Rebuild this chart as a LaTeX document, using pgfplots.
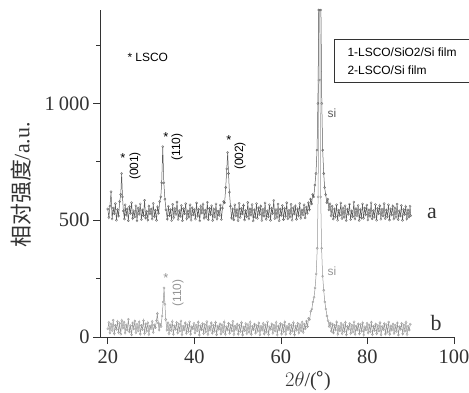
\documentclass[border=0pt]{standalone}
\usepackage{pgfplots}
\pgfplotsset{compat=1.18}
\usepackage{fontspec}
\setmainfont{Liberation Serif}
\newfontfamily\arial{Liberation Sans}
\newfontfamily\cjk{Noto Sans CJK SC}
\definecolor{ta}{HTML}{5A5A5A}
\definecolor{tb}{HTML}{959595}
\definecolor{ax}{HTML}{333333}
\begin{document}
\begin{tikzpicture}[x=1bp,y=1bp]
\begin{axis}[
  at={(0,0)}, anchor=south west,
  scale only axis, width=354bp, height=327bp,
  xmin=18.2, xmax=100, ymin=0, ymax=1400,
  axis x line*=bottom, axis y line*=left,
  axis line style={ax, line width=0.8pt, -},
  xtick={20,40,60,80,100},
  ytick={0,500,1000}, yticklabels={0,500,1\hspace{4bp}000},
  minor ytick={250,750,1250},
  tick align=outside,
  major tick length=7bp, minor tick length=4bp,
  tick style={ax, line width=0.8pt},
  tick label style={font=\fontsize{20.5}{24}\selectfont, text=ax},
  /pgf/number format/assume math mode=true,
  xticklabel style={yshift=-2bp},
  clip=true,
]
\addplot[tb, line width=0.5pt, mark=o, mark size=1.1pt, mark options={line width=0.3pt}] coordinates {
(20.00,35)(20.25,62)(20.50,18)(20.75,55)(21.00,28)(21.25,72)(21.50,15)(21.75,50)(22.00,33)(22.25,66)
(22.50,20)(22.75,58)(23.00,12)(23.25,70)(23.50,38)(23.75,63)(24.00,17)(24.25,52)(24.50,30)(24.75,76)
(25.00,22)(25.25,48)(25.50,10)(25.75,60)(26.00,35)(26.25,68)(26.50,19)(26.75,54)(27.00,27)(27.25,64)
(27.50,13)(27.75,50)(28.00,32)(28.25,70)(28.50,16)(28.75,56)(29.00,25)(29.25,61)(29.50,11)(29.75,47)
(30.00,36)(30.25,66)(30.50,20)(30.75,52)(31.00,40)(31.25,70)(31.45,100)(31.65,60)(31.85,30)(32.05,55)
(32.30,45)(32.55,90)(32.80,150)(33.00,210)(33.20,140)(33.40,75)(33.65,30)(33.90,60)(34.15,15)(34.40,52)
(34.65,28)(34.90,66)(35.15,12)(35.40,48)(35.65,33)(35.90,62)(36.15,18)(36.40,55)(36.65,26)(36.90,69)
(37.15,10)(37.40,46)(37.65,30)(37.90,60)(38.15,16)(38.40,52)(38.65,24)(38.90,65)(39.15,12)(39.40,44)
(39.65,35)(39.90,58)(40.15,18)(40.40,50)(40.65,27)(40.90,63)(41.15,9)(41.40,48)(41.65,31)(41.90,57)
(42.15,15)(42.40,53)(42.65,22)(42.90,66)(43.15,11)(43.40,45)(43.65,29)(43.90,60)(44.15,17)(44.40,50)
(44.65,25)(44.90,62)(45.15,10)(45.40,47)(45.65,33)(45.90,56)(46.15,14)(46.40,52)(46.65,23)(46.90,64)
(47.15,12)(47.40,44)(47.65,30)(47.90,58)(48.15,16)(48.40,51)(48.65,26)(48.90,67)(49.15,11)(49.40,46)
(49.65,32)(49.90,55)(50.15,13)(50.40,50)(50.65,24)(50.90,61)(51.15,9)(51.40,43)(51.65,28)(51.90,57)
(52.15,15)(52.40,53)(52.65,21)(52.90,63)(53.15,12)(53.40,46)(53.65,31)(53.90,55)(54.15,17)(54.40,49)
(54.65,25)(54.90,60)(55.15,10)(55.40,45)(55.65,29)(55.90,58)(56.15,14)(56.40,51)(56.65,22)(56.90,65)
(57.15,11)(57.40,44)(57.65,33)(57.90,56)(58.15,16)(58.40,50)(58.65,26)(58.90,62)(59.15,9)(59.40,47)
(59.65,30)(59.90,57)(60.15,13)(60.40,52)(60.65,23)(60.90,64)(61.15,12)(61.40,45)(61.65,32)(61.90,55)
(62.15,15)(62.40,50)(62.65,25)(62.90,61)(63.15,10)(63.40,47)(63.65,29)(63.90,58)(64.15,17)(64.40,53)
(64.65,27)(64.90,63)(65.15,20)(65.40,55)(65.65,35)(65.90,68)(66.15,45)(66.40,80)(66.65,75)(66.90,110)
(67.15,120)(67.40,150)(67.65,170)(67.90,210)(68.15,270)(68.40,380)(68.60,600)(68.75,1100)(68.90,3000)(69.05,1100)
(69.20,600)(69.40,380)(69.65,260)(69.90,200)(70.15,150)(70.40,120)(70.65,90)(70.90,70)(71.15,45)(71.40,60)
(71.65,25)(71.90,55)(72.15,18)(72.40,50)(72.65,30)(72.90,64)(73.15,12)(73.40,46)(73.65,27)(73.90,58)
(74.15,15)(74.40,52)(74.65,24)(74.90,62)(75.15,10)(75.40,45)(75.65,33)(75.90,57)(76.15,16)(76.40,50)
(76.65,22)(76.90,65)(77.15,12)(77.40,47)(77.65,30)(77.90,56)(78.15,14)(78.40,53)(78.65,25)(78.90,60)
(79.15,9)(79.40,44)(79.65,31)(79.90,58)(80.15,17)(80.40,51)(80.65,23)(80.90,63)(81.15,11)(81.40,46)
(81.65,28)(81.90,55)(82.15,15)(82.40,49)(82.65,26)(82.90,61)(83.15,10)(83.40,45)(83.65,32)(83.90,57)
(84.15,13)(84.40,52)(84.65,21)(84.90,64)(85.15,12)(85.40,47)(85.65,29)(85.90,55)(86.15,16)(86.40,50)
(86.65,24)(86.90,60)(87.15,9)(87.40,44)(87.65,33)(87.90,58)(88.15,14)(88.40,51)(88.65,25)(88.90,62)
(89.15,11)(89.40,46)(89.65,30)(89.90,55)
};
\addplot[ta, line width=0.5pt, mark=o, mark size=1.1pt, mark options={line width=0.3pt}] coordinates {
(20.00,548)(20.25,512)(20.50,560)(20.75,622)(21.00,505)(21.25,552)(21.50,528)(21.75,571)(22.00,500)(22.25,545)
(22.50,518)(22.75,580)(23.00,610)(23.20,700)(23.40,600)(23.60,540)(23.85,505)(24.00,566)(24.25,522)(24.50,548)
(24.75,498)(25.00,558)(25.25,530)(25.50,575)(25.75,508)(26.00,540)(26.25,515)(26.50,562)(26.75,497)(27.00,551)
(27.25,526)(27.50,570)(27.75,503)(28.00,544)(28.25,520)(28.50,585)(28.75,510)(29.00,538)(29.25,501)(29.50,560)
(29.75,527)(30.00,548)(30.25,505)(30.50,572)(30.75,516)(31.00,542)(31.25,500)(31.50,557)(31.75,530)(32.00,580)
(32.25,600)(32.45,660)(32.70,815)(32.95,660)(33.20,590)(33.45,545)(33.75,505)(34.00,560)(34.25,520)(34.50,545)
(34.75,499)(35.00,568)(35.25,512)(35.50,550)(35.75,525)(36.00,578)(36.25,503)(36.50,541)(36.75,517)(37.00,563)
(37.25,498)(37.50,549)(37.75,528)(38.00,571)(38.25,507)(38.50,540)(38.75,514)(39.00,566)(39.25,500)(39.50,553)
(39.75,523)(40.00,545)(40.25,505)(40.50,574)(40.75,518)(41.00,546)(41.25,497)(41.50,559)(41.75,531)(42.00,568)
(42.25,509)(42.50,543)(42.75,513)(43.00,577)(43.25,502)(43.50,550)(43.75,524)(44.00,562)(44.25,499)(44.50,547)
(44.75,515)(45.00,570)(45.25,506)(45.50,539)(45.75,521)(46.00,565)(46.25,503)(46.50,552)(46.75,580)(47.00,575)
(47.25,640)(47.50,720)(47.70,790)(47.90,700)(48.10,620)(48.35,560)(48.60,510)(48.85,548)(49.10,502)(49.35,566)
(49.60,519)(49.85,545)(50.10,498)(50.35,572)(50.60,512)(50.85,550)(51.10,527)(51.35,563)(51.60,501)(51.85,541)
(52.10,516)(52.35,576)(52.60,505)(52.85,548)(53.10,522)(53.35,567)(53.60,497)(53.85,544)(54.10,513)(54.35,571)
(54.60,508)(54.85,553)(55.10,525)(55.35,560)(55.60,499)(55.85,546)(56.10,518)(56.35,574)(56.60,504)(56.85,540)
(57.10,515)(57.35,566)(57.60,500)(57.85,551)(58.10,529)(58.35,585)(58.60,507)(58.85,545)(59.10,512)(59.35,569)
(59.60,498)(59.85,547)(60.10,521)(60.35,563)(60.60,503)(60.85,550)(61.10,517)(61.35,575)(61.60,506)(61.85,542)
(62.10,514)(62.35,568)(62.60,500)(62.85,553)(63.10,527)(63.35,561)(63.60,504)(63.85,548)(64.10,519)(64.35,572)
(64.60,508)(64.85,544)(65.10,523)(65.35,566)(65.60,510)(65.85,556)(66.10,530)(66.35,575)(66.60,545)(66.85,590)
(67.10,570)(67.35,610)(67.60,600)(67.85,650)(68.10,700)(68.35,800)(68.55,1000)(68.75,1400)(69.00,3000)(69.25,1400)
(69.45,1000)(69.65,800)(69.90,700)(70.10,640)(70.35,610)(70.60,575)(70.85,590)(71.10,545)(71.35,570)(71.60,520)
(71.85,560)(72.10,505)(72.35,548)(72.60,515)(72.85,566)(73.10,500)(73.35,543)(73.60,521)(73.85,574)(74.10,507)
(74.35,551)(74.60,513)(74.85,562)(75.10,498)(75.35,547)(75.60,526)(75.85,569)(76.10,503)(76.35,540)(76.60,516)
(76.85,578)(77.10,505)(77.35,549)(77.60,520)(77.85,563)(78.10,499)(78.35,545)(78.60,511)(78.85,570)(79.10,508)
(79.35,552)(79.60,524)(79.85,565)(80.10,501)(80.35,544)(80.60,517)(80.85,575)(81.10,506)(81.35,541)(81.60,514)
(81.85,567)(82.10,500)(82.35,550)(82.60,528)(82.85,562)(83.10,504)(83.35,546)(83.60,519)(83.85,571)(84.10,507)
(84.35,543)(84.60,515)(84.85,566)(85.10,501)(85.35,548)(85.60,523)(85.85,560)(86.10,505)(86.35,552)(86.60,512)
(86.85,569)(87.10,503)(87.35,540)(87.60,518)(87.85,563)(88.10,500)(88.35,546)(88.60,525)(88.85,558)(89.10,506)
(89.35,544)(89.60,515)(89.85,560)(90.00,520)
};
\end{axis}
% annotations (origin = axis lower-left corner)
\node[anchor=west, font=\arial\fontsize{12}{14}\selectfont] at (24,280) {* LSCO};
\draw[ax, line width=0.5pt] (234,298) rectangle (380,255);
\node[anchor=west, font=\arial\fontsize{12}{14}\selectfont] at (244,285) {1-LSCO/SiO2/Si film};
\node[anchor=west, font=\arial\fontsize{12}{14}\selectfont] at (244,267) {2-LSCO/Si film};
\node[font=\fontsize{22}{26}\selectfont, text=ax] at (332,124) {a};
\node[font=\fontsize{22}{26}\selectfont, text=ax] at (336,14) {b};
\node[font=\arial\fontsize{12}{14}\selectfont, text=ta] at (232,224) {si};
\node[font=\arial\fontsize{12}{14}\selectfont, text=tb] at (232,66) {si};
\node[font=\arial\fontsize{13}{14}\selectfont] at (23,179) {*};
\node[font=\arial\fontsize{12}{14}\selectfont, rotate=90] at (35,171) {(001)};
\node[font=\arial\fontsize{13}{14}\selectfont] at (66,200) {*};
\node[font=\arial\fontsize{12}{14}\selectfont, rotate=90] at (77,190) {(110)};
\node[font=\arial\fontsize{13}{14}\selectfont] at (129,197) {*};
\node[font=\arial\fontsize{12}{14}\selectfont, rotate=90] at (140,181) {(002)};
\node[font=\arial\fontsize{13}{14}\selectfont, text=tb] at (66,59) {*};
\node[font=\arial\fontsize{12}{14}\selectfont, rotate=90, text=tb] at (78,44) {(110)};
\node[rotate=90, font=\fontsize{22}{26}\selectfont, text=ax] at (-79,152) {{\cjk 相对强度}/a.u.};
\node[font=\fontsize{20}{24}\selectfont, text=ax] at (208,-44) {$2\theta$/({\cjk °})};
\pgfresetboundingbox
\path (-100,-55) rectangle (369,337);
\end{tikzpicture}
\end{document}
